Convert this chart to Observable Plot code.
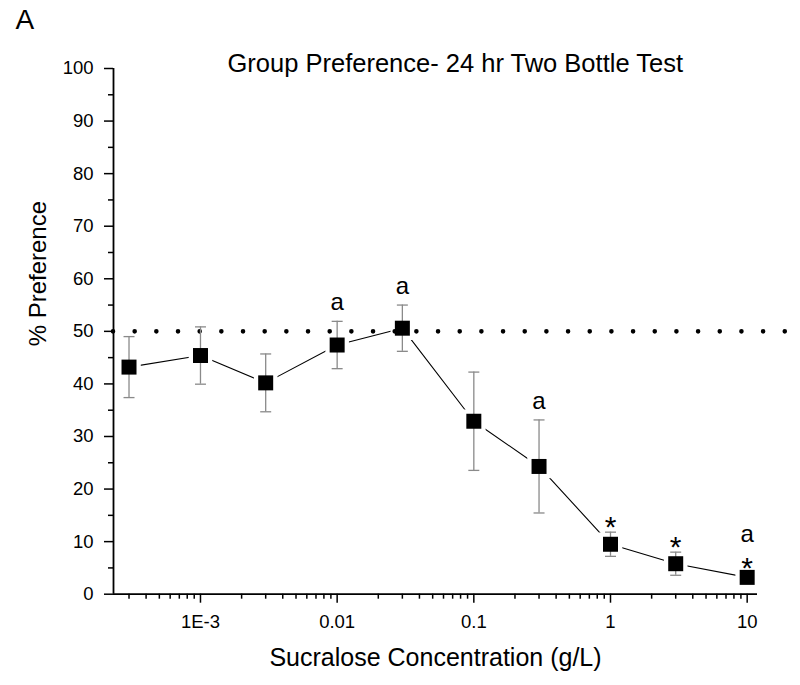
<!DOCTYPE html>
<html>
<head>
<meta charset="utf-8">
<script src="https://cdn.jsdelivr.net/npm/d3@7"></script>
<script src="https://cdn.jsdelivr.net/npm/@observablehq/plot@0.6"></script>
<style>
  html, body { margin: 0; padding: 0; background: #fff; }
  #chart { width: 800px; height: 685px; }
</style>
</head>
<body>
<div id="chart"></div>
<script>
// ---- data ----
const concentrations = [0.0003, 0.001, 0.003, 0.01, 0.03, 0.1, 0.3, 1, 3, 10];
const preference     = [43.2, 45.4, 40.2, 47.4, 50.6, 32.9, 24.3, 9.5, 5.8, 3.2];
const sem            = [5.8, 5.45, 5.5, 4.5, 4.4, 9.35, 8.85, 2.3, 2.2, 0.7];
const letterMarks    = ["", "", "", "a", "a", "", "a", "", "", "a"];
const starMarks      = ["", "", "", "", "", "", "", "*", "*", "*"];
const xTickValues    = [0.001, 0.01, 0.1, 1, 10];
const xTickLabels    = ["1E-3", "0.01", "0.1", "1", "10"];
const yTickValues    = [0, 10, 20, 30, 40, 50, 60, 70, 80, 90, 100];
const referenceLevel = 50;
const chartTitle = "Group Preference- 24 hr Two Bottle Test";
const panelLabel = "A";
const xTitle = "Sucralose Concentration (g/L)";
const yTitle = "% Preference";

const rows = concentrations.map((c, i) => ({
  x: c, y: preference[i], lo: preference[i] - sem[i], hi: preference[i] + sem[i],
  letter: letterMarks[i], star: starMarks[i]
}));

const xDomain = [0.000231, 11.9];
const minorX = d3.scaleLog().domain(xDomain).ticks().filter(v => !xTickValues.some(t => Math.abs(t - v) / t < 1e-9));
const minorY = d3.range(5, 100, 10);
const labelOf = new Map(xTickValues.map((v, i) => [v, xTickLabels[i]]));

const capSymbol = { draw(ctx) { ctx.moveTo(-5.5, 0); ctx.lineTo(5.5, 0); } };
const font = "'Liberation Sans', Arial, Helvetica, sans-serif";

const chart = Plot.plot({
  width: 800,
  height: 685,
  marginLeft: 113,
  marginRight: 43,
  marginTop: 68,
  marginBottom: 91.3,
  style: { fontFamily: font, fontSize: "18px", background: "#fff", color: "#000", overflow: "visible" },
  x: { type: "log", domain: xDomain, label: null },
  y: { domain: [0, 100], label: null },
  marks: [
    // axes
    Plot.axisX({ ticks: xTickValues, tickFormat: d => labelOf.get(d) ?? "", tickSize: 9, tickPadding: 12, strokeWidth: 1.5, fontSize: 18.5, label: null }),
    Plot.axisX({ ticks: minorX, tickFormat: () => "", tickSize: 5, strokeWidth: 1.5, label: null }),
    Plot.axisY({ ticks: yTickValues, tickFormat: d => String(d), tickSize: 9, tickPadding: 11, strokeWidth: 1.5, fontSize: 18.5, label: null }),
    Plot.axisY({ ticks: minorY, tickFormat: () => "", tickSize: 5, strokeWidth: 1.5, label: null }),
    Plot.ruleY([0], { stroke: "#000", strokeWidth: 1.8 }),
    Plot.ruleX([xDomain[0]], { stroke: "#000", strokeWidth: 1.8 }),
    // connecting line with gaps near markers
    Plot.line(rows, { x: "x", y: "y", stroke: "#000", strokeWidth: 1.1 }),
    Plot.dot(rows, { x: "x", y: "y", symbol: "square", r: 13.3, fill: "#fff", stroke: "none" }),
    // dotted 50 % reference
    Plot.ruleY([referenceLevel], { x1: xDomain[0], x2: 19.4, stroke: "#000", strokeWidth: 4.6, strokeDasharray: "0 21.67", strokeLinecap: "round" }),
    // error bars
    Plot.ruleX(rows, { x: "x", y1: "lo", y2: "hi", stroke: "#8a8a8a", strokeWidth: 1.3 }),
    Plot.dot(rows, { x: "x", y: "hi", symbol: capSymbol, stroke: "#8a8a8a", strokeWidth: 1.3, fill: "none" }),
    Plot.dot(rows, { x: "x", y: "lo", symbol: capSymbol, stroke: "#8a8a8a", strokeWidth: 1.3, fill: "none" }),
    // markers
    Plot.dot(rows, { x: "x", y: "y", symbol: "square", r: 8.46, fill: "#000", stroke: "none" }),
    // significance marks
    Plot.text(rows.filter(d => d.star), { x: "x", y: "hi", text: "star", lineAnchor: "bottom", dy: 4.5, fontSize: 30, fill: "#000" }),
    Plot.text(rows.filter(d => d.letter && !d.star), { x: "x", y: "hi", text: "letter", lineAnchor: "bottom", dy: -11, fontSize: 24, fill: "#000" }),
    Plot.text(rows.filter(d => d.letter && d.star), { x: "x", y: "hi", text: "letter", lineAnchor: "bottom", dy: -31.5, fontSize: 24, fill: "#000" }),
    // titles
    Plot.text([chartTitle], { text: d => d, frameAnchor: "top-left", dx: 114, dy: 3, textAnchor: "start", lineAnchor: "bottom", fontSize: 25.5, fill: "#000" }),
    Plot.text([panelLabel], { text: d => d, frameAnchor: "top-left", dx: -98, dy: -40, textAnchor: "start", lineAnchor: "bottom", fontSize: 28, fill: "#000" }),
    Plot.text([xTitle], { text: d => d, frameAnchor: "bottom", dy: 71.3, lineAnchor: "bottom", fontSize: 25, fill: "#000" }),
    Plot.text([yTitle], { text: d => d, frameAnchor: "left", dx: -68, dy: 15, rotate: -90, lineAnchor: "bottom", fontSize: 24, fill: "#000" })
  ]
});
document.getElementById("chart").appendChild(chart);
</script>
</body>
</html>
